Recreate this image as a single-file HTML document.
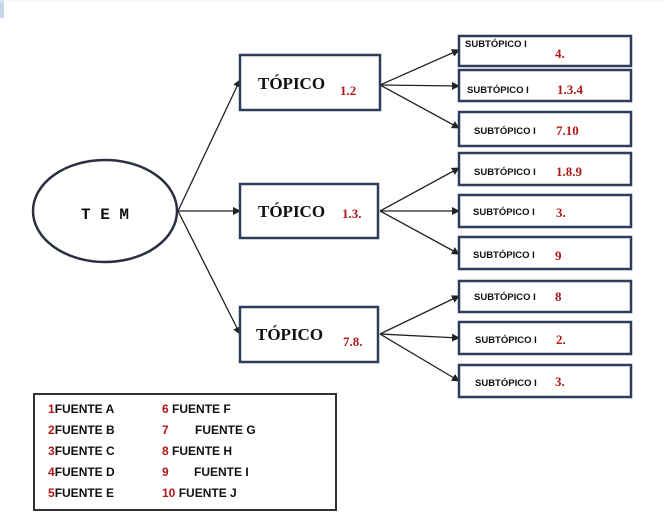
<!DOCTYPE html>
<html><head><meta charset="utf-8"><style>
html,body{margin:0;padding:0;background:#fff;}
svg{display:block;}
.t{font-family:"Liberation Mono","DejaVu Sans Mono",monospace;font-weight:bold;}
</style></head><body>
<svg width="664" height="517" viewBox="0 0 664 517" xmlns="http://www.w3.org/2000/svg">
<defs><marker id="a" markerWidth="8" markerHeight="8" refX="7" refY="4" orient="auto" markerUnits="userSpaceOnUse"><path d="M0,0 L8,4 L0,8 z" fill="#222"/></marker></defs>
<rect x="0" y="0" width="4" height="18" fill="#c8d8ec"/>
<line x1="0" y1="1" x2="664" y2="1" stroke="#eef2f6"/>
<ellipse cx="105" cy="211" rx="72" ry="51" fill="#fff" stroke="#2b3040" stroke-width="2.5"/>
<text x="105" y="219" class="t" font-size="16" text-anchor="middle" fill="#111">T E M</text>
<g stroke="#222" stroke-width="1.3" fill="none" marker-end="url(#a)">
<line x1="178" y1="211" x2="240" y2="80"/>
<line x1="178" y1="211" x2="240" y2="211"/>
<line x1="178" y1="211" x2="240" y2="334"/>
<line x1="380" y1="85" x2="459" y2="50"/>
<line x1="380" y1="85" x2="459" y2="86"/>
<line x1="380" y1="85" x2="459" y2="128"/>
<line x1="380" y1="211" x2="459" y2="168"/>
<line x1="380" y1="211" x2="459" y2="211"/>
<line x1="380" y1="211" x2="459" y2="254"/>
<line x1="380" y1="334" x2="459" y2="296"/>
<line x1="380" y1="334" x2="459" y2="338"/>
<line x1="380" y1="334" x2="459" y2="381"/>
</g>
<g fill="#fff" stroke="#2f3d5c" stroke-width="2.5">
<rect x="240" y="55" width="140" height="55"/>
<rect x="240" y="184" width="138" height="54"/>
<rect x="240" y="307" width="138" height="55"/>
<rect x="459" y="36" width="172" height="30"/>
<rect x="459" y="70" width="172" height="31"/>
<rect x="459" y="112" width="172" height="34"/>
<rect x="459" y="153" width="172" height="32"/>
<rect x="459" y="195" width="172" height="32"/>
<rect x="459" y="237" width="172" height="32"/>
<rect x="459" y="281" width="172" height="31"/>
<rect x="459" y="322" width="172" height="32"/>
<rect x="459" y="365" width="172" height="32"/>
</g>
<g fill="#111" font-size="17">
<text x="258" y="89" font-family="Liberation Serif" font-weight="bold">TÓPICO</text>
<text x="258" y="217" font-family="Liberation Serif" font-weight="bold">TÓPICO</text>
<text x="256" y="340" font-family="Liberation Serif" font-weight="bold">TÓPICO</text>
</g>
<g fill="#b01818" font-family="Liberation Serif" font-weight="bold" font-size="13">
<text x="340" y="95">1.2</text>
<text x="342" y="218">1.3.</text>
<text x="343" y="346">7.8.</text>
</g>
<g font-family="Liberation Sans" font-weight="bold" font-size="9.5" fill="#111">
<text x="465" y="47">SUBTÓPICO I</text>
<text x="467" y="93">SUBTÓPICO I</text>
<text x="474" y="134">SUBTÓPICO I</text>
<text x="474" y="175">SUBTÓPICO I</text>
<text x="473" y="215">SUBTÓPICO I</text>
<text x="473" y="258">SUBTÓPICO I</text>
<text x="474" y="300">SUBTÓPICO I</text>
<text x="475" y="343">SUBTÓPICO I</text>
<text x="475" y="386">SUBTÓPICO I</text>
</g>
<g fill="#b01818" font-family="Liberation Serif" font-weight="bold" font-size="13">
<text x="555" y="58">4.</text>
<text x="557" y="94">1.3.4</text>
<text x="556" y="135">7.10</text>
<text x="556" y="176">1.8.9</text>
<text x="556" y="217">3.</text>
<text x="555" y="260">9</text>
<text x="555" y="301">8</text>
<text x="556" y="344">2.</text>
<text x="555" y="386">3.</text>
</g>
<rect x="34" y="394" width="302" height="116" fill="#fff" stroke="#333" stroke-width="2"/>
<g font-family="Liberation Sans" font-weight="bold" font-size="12">
<text x="48" y="413"><tspan fill="#b01818">1</tspan><tspan fill="#111">FUENTE A</tspan></text>
<text x="48" y="434"><tspan fill="#b01818">2</tspan><tspan fill="#111">FUENTE B</tspan></text>
<text x="48" y="455"><tspan fill="#b01818">3</tspan><tspan fill="#111">FUENTE C</tspan></text>
<text x="48" y="476"><tspan fill="#b01818">4</tspan><tspan fill="#111">FUENTE D</tspan></text>
<text x="48" y="497"><tspan fill="#b01818">5</tspan><tspan fill="#111">FUENTE E</tspan></text>
<text x="162" y="413"><tspan fill="#b01818">6</tspan><tspan fill="#111"> FUENTE F</tspan></text>
<text x="162" y="434"><tspan fill="#b01818">7</tspan><tspan fill="#111" x="195">FUENTE G</tspan></text>
<text x="162" y="455"><tspan fill="#b01818">8</tspan><tspan fill="#111"> FUENTE H</tspan></text>
<text x="162" y="476"><tspan fill="#b01818">9</tspan><tspan fill="#111" x="194">FUENTE I</tspan></text>
<text x="162" y="497"><tspan fill="#b01818">10</tspan><tspan fill="#111"> FUENTE J</tspan></text>
</g>
</svg>
</body></html>
